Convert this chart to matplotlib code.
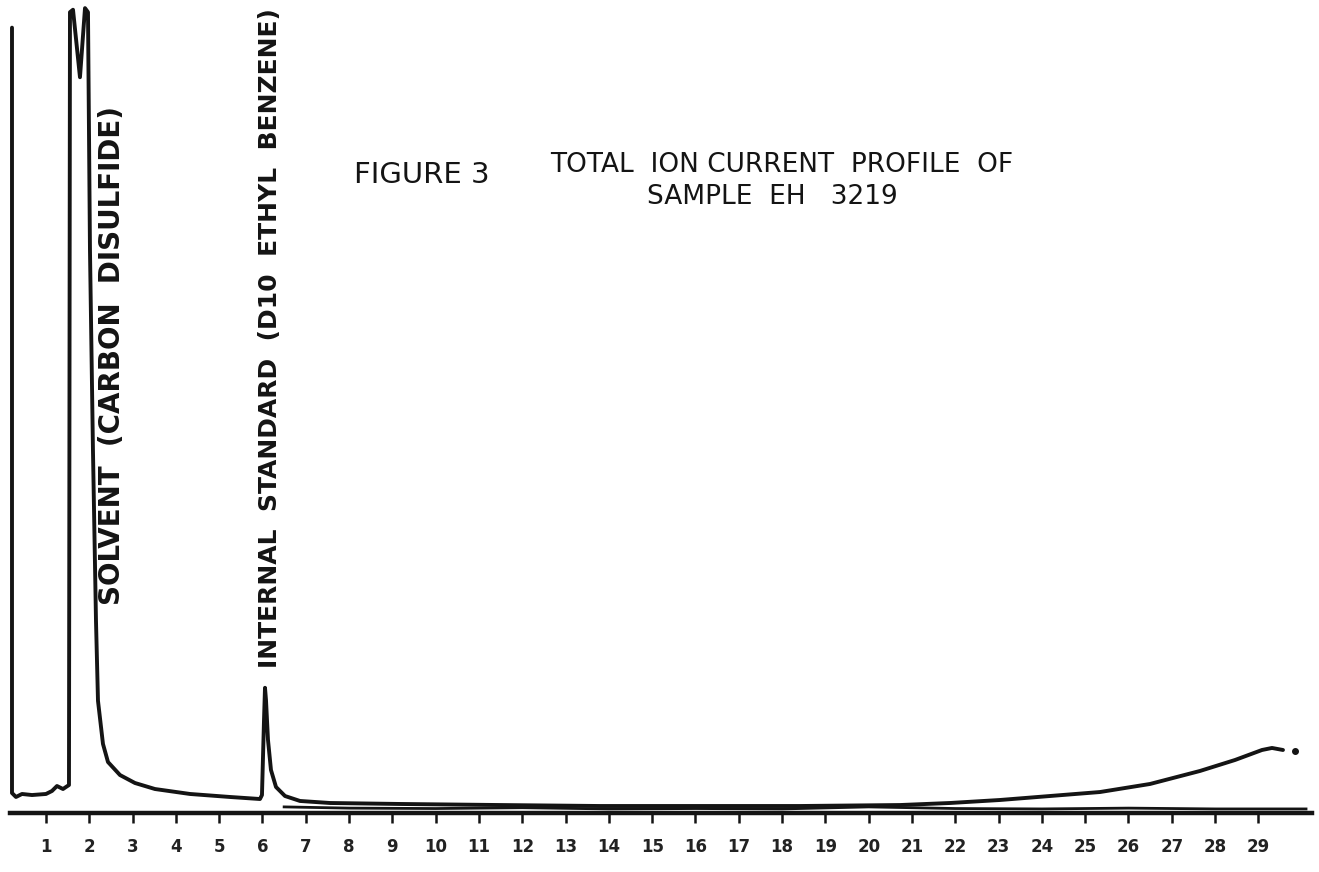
# Figure 3 - total ion current profile of sample EH 3219
# redrawn from the scanned chromatogram
# ------------------------------------------------------------

import matplotlib
matplotlib.use("Agg")
import matplotlib.pyplot as plt

# ----------------------------------------------------
# DATA
# x = scan / time mark 1..29, y = relative ion current (% of full scale)
# ----------------------------------------------------
# pen start mark + solvent peak + internal standard + late baseline rise
trace_x = [0.215, 0.215, 0.307, 0.446, 0.677, 1.0, 1.139, 1.254, 1.393, 1.462,
           1.531, 1.554, 1.624, 1.785, 1.901, 1.970, 2.016, 2.085, 2.155, 2.201,
           2.316, 2.432, 2.709, 3.055, 3.517, 4.326, 5.249, 5.942, 5.988, 6.035,
           6.058, 6.081, 6.127, 6.196, 6.312, 6.520, 6.866, 7.559, 9.176, 11.485,
           13.794, 16.104, 18.413, 20.723, 21.878, 23.032, 24.187, 25.342, 26.497,
           27.651, 28.460, 29.083, 29.314, 29.568]
trace_y = [96.6, 2.46, 1.97, 2.34, 2.21, 2.34, 2.71, 3.32, 2.95, 3.20,
           3.44, 98.5, 98.8, 90.5, 99.0, 98.5, 69.2, 44.6, 23.6, 13.8,
           8.5, 6.27, 4.67, 3.69, 2.95, 2.34, 1.97, 1.72, 2.21, 11.4,
           15.4, 13.9, 9.0, 5.29, 3.20, 2.09, 1.48, 1.23, 1.11, 0.98,
           0.86, 0.86, 0.86, 0.98, 1.23, 1.60, 2.09, 2.58, 3.57,
           5.17, 6.52, 7.75, 8.0, 7.75]

# second (lower) pen run that hugs the axis
run2_x = [6.5, 8.0, 10.0, 12.0, 14.0, 16.0, 18.0, 20.0, 22.0, 24.0, 26.0, 28.0, 30.1]
run2_y = [0.75, 0.6, 0.55, 0.65, 0.5, 0.55, 0.5, 0.75, 0.55, 0.5, 0.6, 0.5, 0.5]

# dot after the end of the trace
end_dot_x = [29.845]
end_dot_y = [7.6]

tick_pos = list(range(1, 30))
tick_labels = [str(t) for t in tick_pos]

solvent_label = "SOLVENT  (CARBON  DISULFIDE)"
istd_label = "INTERNAL  STANDARD  (D10  ETHYL  BENZENE)"
title_1 = "FIGURE 3"
title_2 = "TOTAL  ION CURRENT  PROFILE  OF"
title_3 = "SAMPLE  EH   3219"

# ----------------------------------------------------
# FIGURE
# ----------------------------------------------------
W, H = 1319, 872
ink = "#141414"

fig = plt.figure(figsize=(W / 100, H / 100), dpi=100)
fig.patch.set_facecolor("white")

# axes placed so the time axis sits where the chart paper axis is
ax = fig.add_axes([10 / W, (H - 813) / H, 1302 / W, 813 / H])
ax.set_facecolor("white")
ax.set_xlim(0.169, 30.238)
ax.set_ylim(0, 100)

ax.plot(trace_x, trace_y, color=ink, lw=2.8, solid_joinstyle="round",
        solid_capstyle="round", clip_on=False)
ax.plot(run2_x, run2_y, color=ink, lw=2.0, clip_on=False)
ax.plot(end_dot_x, end_dot_y, "o", color=ink, ms=4, clip_on=False)

for s in ["top", "right", "left"]:
    ax.spines[s].set_visible(False)
ax.spines["bottom"].set_linewidth(3.2)
ax.spines["bottom"].set_color(ink)

ax.set_yticks([])
ax.set_xticks(tick_pos)
ax.set_xticklabels(tick_labels, fontsize=12, fontweight="bold", color="#222222")
ax.tick_params(axis="x", direction="out", length=7, width=1.8, color=ink, pad=11)

# ----------------------------------------------------
# PEAK LABELS (written vertically along the peaks)
# ----------------------------------------------------
ax.text(2.53, 56.3, solvent_label, rotation=90, ha="center", va="center",
        fontsize=20, fontweight="bold", color=ink)
ax.text(6.18, 58.4, istd_label, rotation=90, ha="center", va="center",
        fontsize=18, fontweight="bold", color=ink)

# ----------------------------------------------------
# TITLE
# ----------------------------------------------------
fig.text(354 / W, 1 - 175 / H, title_1, ha="left", va="center", fontsize=21, color=ink)
fig.text(550 / W, 1 - 165 / H, title_2, ha="left", va="center", fontsize=19, color=ink)
fig.text(647 / W, 1 - 197 / H, title_3, ha="left", va="center", fontsize=19, color=ink)

fig.savefig("out.png", dpi=100, facecolor="white")
plt.close()
print("Saved: out.png")
